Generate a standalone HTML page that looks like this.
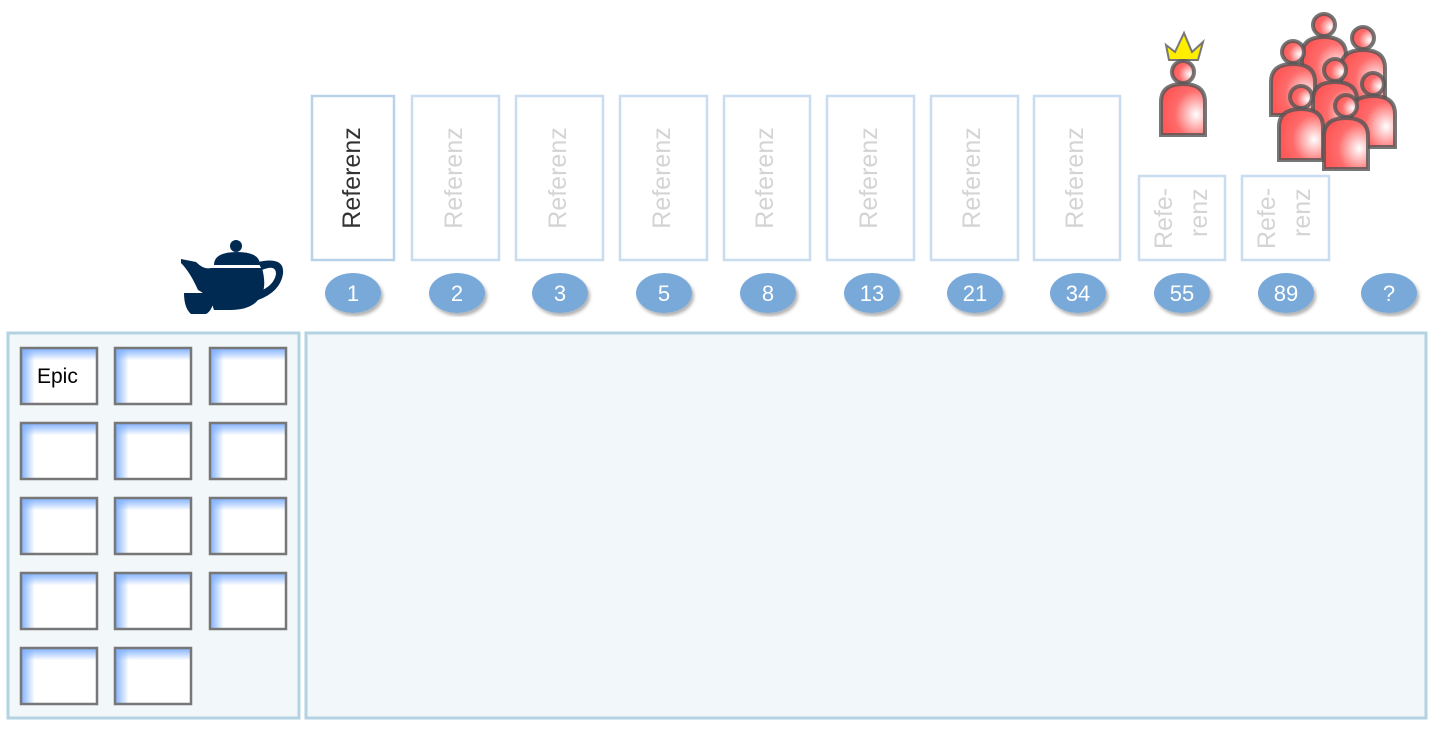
<!DOCTYPE html>
<html><head><style>
body{margin:0;width:1436px;height:730px;background:#fff;overflow:hidden;font-family:"Liberation Sans",sans-serif}
</style></head><body>
<svg width="1436" height="730" viewBox="0 0 1436 730" xmlns="http://www.w3.org/2000/svg">
<defs>
<linearGradient id="gl" x1="0" y1="0" x2="1" y2="0">
<stop offset="0" stop-color="#7fb0ff"/><stop offset="0.18" stop-color="#7fb0ff" stop-opacity="0"/>
</linearGradient>
<linearGradient id="gt" x1="0" y1="0" x2="0" y2="1">
<stop offset="0" stop-color="#7fb0ff"/><stop offset="0.22" stop-color="#7fb0ff" stop-opacity="0"/>
</linearGradient>
<radialGradient id="pg" cx="0.8" cy="0.6" r="0.8">
<stop offset="0" stop-color="#fff"/><stop offset="0.6" stop-color="#ff6b6b"/><stop offset="1" stop-color="#f55"/>
</radialGradient>
<g id="person">
<circle cx="0" cy="0" r="11" fill="url(#pg)" stroke="#555" stroke-width="4" stroke-opacity="0.8"/>
<path d="M-22,63 L-22,30 Q-22,12 0,12 Q22,12 22,30 L22,63 Z" fill="url(#pg)" stroke="#555" stroke-width="4" stroke-opacity="0.8"/>
</g>
<g id="ep">
<rect width="76" height="56" fill="#fff"/>
<rect width="76" height="56" fill="url(#gl)"/>
<rect width="76" height="56" fill="url(#gt)" stroke="#777" stroke-width="2.5"/>
</g>
<filter id="sh"><feDropShadow dx="2" dy="3" stdDeviation="1.5" flood-opacity="0.3"/></filter>
</defs>
<rect x="8" y="333" width="291" height="385" fill="#f2f7fa" stroke="#b3d3e3" stroke-width="3"/>
<rect x="306" y="333" width="1120" height="385" fill="#f2f7fa" stroke="#b3d3e3" stroke-width="3"/>
<use href="#ep" x="21" y="348"/><use href="#ep" x="115" y="348"/><use href="#ep" x="210" y="348"/>
<use href="#ep" x="21" y="423"/><use href="#ep" x="115" y="423"/><use href="#ep" x="210" y="423"/>
<use href="#ep" x="21" y="498"/><use href="#ep" x="115" y="498"/><use href="#ep" x="210" y="498"/>
<use href="#ep" x="21" y="573"/><use href="#ep" x="115" y="573"/><use href="#ep" x="210" y="573"/>
<use href="#ep" x="21" y="648"/><use href="#ep" x="115" y="648"/>
<text x="37" y="383" font-size="21" fill="#000">Epic</text>
<g fill="#fff" stroke="#c9ddf0" stroke-width="2.5">
<rect x="312" y="96" width="82" height="164" stroke="#b8d2ea"/>
<rect x="412" y="96" width="87" height="164"/><rect x="516" y="96" width="87" height="164"/>
<rect x="620" y="96" width="87" height="164"/><rect x="724" y="96" width="86" height="164"/>
<rect x="827" y="96" width="87" height="164"/><rect x="931" y="96" width="87" height="164"/>
<rect x="1034" y="96" width="86" height="164"/>
<rect x="1139" y="176" width="86" height="84"/><rect x="1242" y="176" width="87" height="84"/>
</g>
<g font-size="25" fill="#d4d4d4">
<text transform="translate(360,178) rotate(-90)" text-anchor="middle" fill="#333">Referenz</text>
<text transform="translate(462,178) rotate(-90)" text-anchor="middle">Referenz</text>
<text transform="translate(566,178) rotate(-90)" text-anchor="middle">Referenz</text>
<text transform="translate(670,178) rotate(-90)" text-anchor="middle">Referenz</text>
<text transform="translate(773,178) rotate(-90)" text-anchor="middle">Referenz</text>
<text transform="translate(877,178) rotate(-90)" text-anchor="middle">Referenz</text>
<text transform="translate(980,178) rotate(-90)" text-anchor="middle">Referenz</text>
<text transform="translate(1083,178) rotate(-90)" text-anchor="middle">Referenz</text>
<text transform="translate(1172,249) rotate(-90)">Refe-</text>
<text transform="translate(1207,237) rotate(-90)">renz</text>
<text transform="translate(1275,249) rotate(-90)">Refe-</text>
<text transform="translate(1310,237) rotate(-90)">renz</text>
</g>
<g fill="#78a9d8" filter="url(#sh)">
<ellipse cx="353" cy="293" rx="28" ry="20"/><ellipse cx="457" cy="293" rx="28" ry="20"/>
<ellipse cx="560" cy="293" rx="28" ry="20"/><ellipse cx="664" cy="293" rx="28" ry="20"/>
<ellipse cx="768" cy="293" rx="28" ry="20"/><ellipse cx="872" cy="293" rx="28" ry="20"/>
<ellipse cx="975" cy="293" rx="28" ry="20"/><ellipse cx="1078" cy="293" rx="28" ry="20"/>
<ellipse cx="1182" cy="293" rx="28" ry="20"/><ellipse cx="1286" cy="293" rx="28" ry="20"/>
<ellipse cx="1389" cy="293" rx="28" ry="20"/>
</g>
<g fill="#fff" font-size="22" text-anchor="middle">
<text x="353" y="301">1</text><text x="457" y="301">2</text><text x="560" y="301">3</text>
<text x="664" y="301">5</text><text x="768" y="301">8</text><text x="872" y="301">13</text>
<text x="975" y="301">21</text><text x="1078" y="301">34</text><text x="1182" y="301">55</text>
<text x="1286" y="301">89</text><text x="1389" y="301">?</text>
</g>
<g fill="#002a52">
<circle cx="236" cy="246" r="6"/>
<path d="M214,265 Q214,252 237,252 Q260,252 260,265 Z"/>
<path d="M181,259 L196,262 Q204,270 211,268 L262,268 Q268,290 258,300 Q250,310 230,310 L214,310 Q210,296 198,290 Q190,272 181,263 Z"/>
<path d="M258,262 Q285,256 283,274 Q280,292 258,300 L258,292 Q274,286 276,274 Q276,264 262,270 Z"/>
<path d="M184,293 L214,293 Q214,310 206,314 L191,314 Q184,308 184,293 Z"/>
</g>
<path d="M1166,45 L1175,52 L1184,33 L1192,52 L1203,42 L1198,60 L1169,60 Z" fill="#ffee00" stroke="#777" stroke-width="2"/>
<use href="#person" x="1183" y="72"/>
<g transform="translate(0,2)">
<use href="#person" x="1324" y="23"/>
<use href="#person" x="1363" y="36"/>
<use href="#person" x="1293" y="50"/>
<use href="#person" x="1335" y="68"/>
<use href="#person" x="1373" y="82"/>
<use href="#person" x="1301" y="95"/>
<use href="#person" x="1346" y="104"/>
</g>
</svg>
</body></html>
